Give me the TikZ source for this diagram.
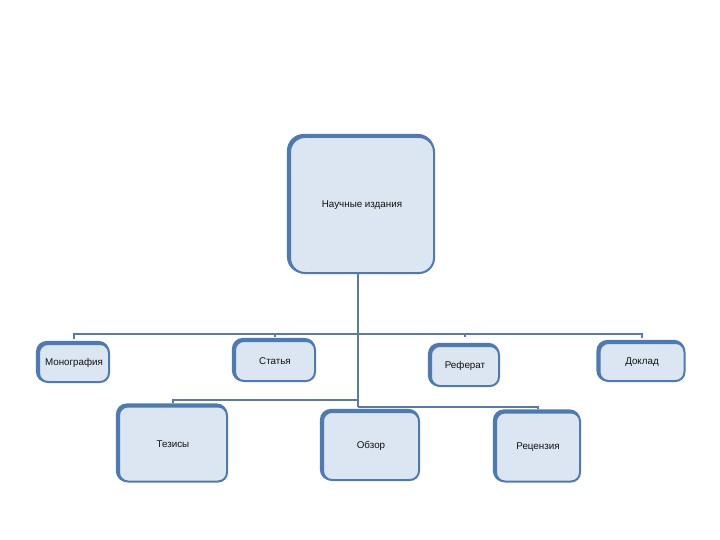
\documentclass[tikz,border=0pt]{standalone}
\usepackage{fontspec}
\setmainfont{Liberation Sans}
\usetikzlibrary{positioning,calc}
\definecolor{orgedge}{HTML}{4E7AB3}
\definecolor{orgfill}{HTML}{DCE5F2}
\definecolor{orgline}{HTML}{5A7BA4}
\definecolor{orgink}{HTML}{111111}
\tikzset{
  bx/.style={rounded corners=9pt, align=center, font=\fontsize{9.8}{11}\selectfont, text=orgink,
    inner sep=2pt, draw=orgedge, line width=2pt, fill=orgfill,
    preaction={draw=orgedge, line width=3.5pt, transform canvas={shift={(-1.3pt,1.3pt)}}}},
  conn/.style={draw=orgline, line width=1.6pt},
}
\begin{document}
\begin{tikzpicture}[x=1pt, y=-1pt]
  \useasboundingbox (0,0) rectangle (720,540);
  % top level
  \node[bx, rounded corners=15pt, minimum width=144pt, minimum height=136pt] (nauch) at (362,205) {Научные издания};
  % second row
  \node[bx, minimum width=70pt, minimum height=38pt] (mono) at (74,363) {Монография};
  \node[bx, minimum width=80pt, minimum height=40pt] (stat) at (275,361) {Статья};
  \node[bx, minimum width=68pt, minimum height=40pt] (ref) at (465,366) {Реферат};
  \node[bx, minimum width=85pt, minimum height=38pt] (dokl) at (642,362) {Доклад};
  % third row
  \node[bx, minimum width=108pt, minimum height=75pt] (tez) at (173,444) {Тезисы};
  \node[bx, minimum width=96pt, minimum height=68pt] (obz) at (371,446) {Обзор};
  \node[bx, minimum width=84pt, minimum height=69pt] (rec) at (538,447) {Рецензия};
  % bus points
  \coordinate (hubA) at (358,334);
  \coordinate (hubB) at (358,400);
  \coordinate (hubC) at (358,407);
  \draw[conn] (nauch.south -| hubA) -- (hubA) -- (hubB) -- (hubC);
  \draw[conn, shorten >=4pt] (hubA) -| (mono.north);
  \draw[conn, shorten >=3pt] (hubA) -| (stat.north);
  \draw[conn, shorten >=8pt] (hubA) -| (ref.north);
  \draw[conn, shorten >=4pt] (hubA) -| (dokl.north);
  \draw[conn, shorten >=3pt] (hubB) -| (tez.north);
  \draw[conn, shorten >=3pt] (hubC) -| (rec.north);
\end{tikzpicture}
\end{document}
